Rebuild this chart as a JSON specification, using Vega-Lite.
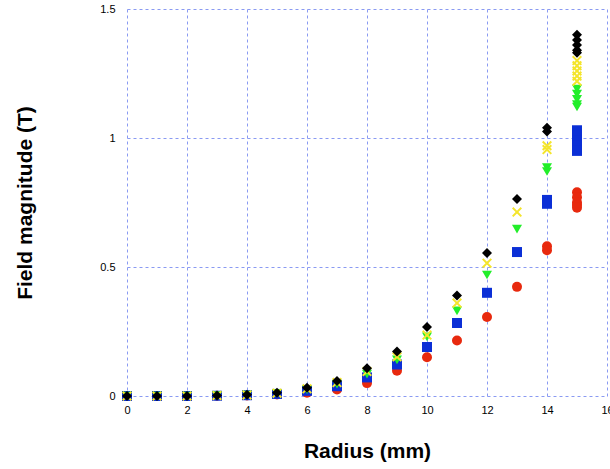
{
  "$schema": "https://vega.github.io/schema/vega-lite/v6.json",
  "width": 480,
  "height": 387,
  "autosize": "none",
  "padding": {"left": 127, "top": 9, "right": 3, "bottom": 73},
  "background": "white",
  "config": {
    "view": {"stroke": null},
    "font": "Liberation Sans",
    "axis": {
      "domain": false,
      "ticks": false,
      "grid": true,
      "gridColor": "#8a9af2",
      "gridDash": [3, 3],
      "gridWidth": 1,
      "gridOpacity": 1,
      "labelFont": "Liberation Sans",
      "labelFontSize": 11,
      "labelColor": "#000000",
      "titleFont": "Liberation Sans",
      "titleFontSize": 21,
      "titleFontWeight": "bold",
      "titleColor": "#000000"
    }
  },
  "data": {
    "values": [
      {"r": 0, "B": 0, "s": "a"}, {"r": 0, "B": 0, "s": "b"}, {"r": 0, "B": 0, "s": "c"}, {"r": 0, "B": 0, "s": "d"}, {"r": 0, "B": 0, "s": "e"},
      {"r": 1, "B": 0, "s": "a"}, {"r": 1, "B": 0, "s": "b"}, {"r": 1, "B": 0, "s": "c"}, {"r": 1, "B": 0, "s": "d"}, {"r": 1, "B": 0, "s": "e"},
      {"r": 2, "B": 0, "s": "a"}, {"r": 2, "B": 0, "s": "b"}, {"r": 2, "B": 0, "s": "c"}, {"r": 2, "B": 0, "s": "d"}, {"r": 2, "B": 0, "s": "e"},
      {"r": 3, "B": 0.001, "s": "a"}, {"r": 3, "B": 0.001, "s": "b"}, {"r": 3, "B": 0.002, "s": "c"}, {"r": 3, "B": 0.002, "s": "d"}, {"r": 3, "B": 0.002, "s": "e"},
      {"r": 4, "B": 0.002, "s": "a"}, {"r": 4, "B": 0.003, "s": "b"}, {"r": 4, "B": 0.004, "s": "c"}, {"r": 4, "B": 0.004, "s": "d"}, {"r": 4, "B": 0.005, "s": "e"},
      {"r": 5, "B": 0.006, "s": "a"}, {"r": 5, "B": 0.008, "s": "b"}, {"r": 5, "B": 0.010, "s": "c"}, {"r": 5, "B": 0.011, "s": "d"}, {"r": 5, "B": 0.013, "s": "e"},
      {"r": 6, "B": 0.013, "s": "a"}, {"r": 6, "B": 0.020, "s": "b"}, {"r": 6, "B": 0.025, "s": "c"}, {"r": 6, "B": 0.028, "s": "d"}, {"r": 6, "B": 0.032, "s": "e"},
      {"r": 7, "B": 0.025, "s": "a"}, {"r": 7, "B": 0.038, "s": "b"}, {"r": 7, "B": 0.046, "s": "c"}, {"r": 7, "B": 0.052, "s": "d"}, {"r": 7, "B": 0.058, "s": "e"},
      {"r": 8, "B": 0.050, "s": "a"}, {"r": 8, "B": 0.072, "s": "b"}, {"r": 8, "B": 0.085, "s": "c"}, {"r": 8, "B": 0.095, "s": "d"}, {"r": 8, "B": 0.108, "s": "e"},
      {"r": 9, "B": 0.098, "s": "a"}, {"r": 9, "B": 0.122, "s": "b"}, {"r": 9, "B": 0.140, "s": "c"}, {"r": 9, "B": 0.152, "s": "d"}, {"r": 9, "B": 0.172, "s": "e"},
      {"r": 10, "B": 0.150, "s": "a"}, {"r": 10, "B": 0.190, "s": "b"}, {"r": 10, "B": 0.229, "s": "c"}, {"r": 10, "B": 0.236, "s": "d"}, {"r": 10, "B": 0.267, "s": "e"},
      {"r": 11, "B": 0.215, "s": "a"}, {"r": 11, "B": 0.283, "s": "b"}, {"r": 11, "B": 0.330, "s": "c"}, {"r": 11, "B": 0.360, "s": "d"}, {"r": 11, "B": 0.390, "s": "e"},
      {"r": 12, "B": 0.306, "s": "a"}, {"r": 12, "B": 0.400, "s": "b"}, {"r": 12, "B": 0.469, "s": "c"}, {"r": 12, "B": 0.515, "s": "d"}, {"r": 12, "B": 0.554, "s": "e"},
      {"r": 13, "B": 0.423, "s": "a"}, {"r": 13, "B": 0.558, "s": "b"}, {"r": 13, "B": 0.647, "s": "c"}, {"r": 13, "B": 0.713, "s": "d"}, {"r": 13, "B": 0.764, "s": "e"},
      {"r": 14, "B": 0.580, "s": "a"}, {"r": 14, "B": 0.565, "s": "a"},
      {"r": 14, "B": 0.760, "s": "b"}, {"r": 14, "B": 0.745, "s": "b"},
      {"r": 14, "B": 0.885, "s": "c"}, {"r": 14, "B": 0.870, "s": "c"},
      {"r": 14, "B": 0.970, "s": "d"}, {"r": 14, "B": 0.955, "s": "d"},
      {"r": 14, "B": 1.040, "s": "e"}, {"r": 14, "B": 1.025, "s": "e"},
      {"r": 15, "B": 0.790, "s": "a"}, {"r": 15, "B": 0.770, "s": "a"}, {"r": 15, "B": 0.750, "s": "a"}, {"r": 15, "B": 0.740, "s": "a"}, {"r": 15, "B": 0.730, "s": "a"},
      {"r": 15, "B": 1.030, "s": "b"}, {"r": 15, "B": 1.010, "s": "b"}, {"r": 15, "B": 0.990, "s": "b"}, {"r": 15, "B": 0.970, "s": "b"}, {"r": 15, "B": 0.950, "s": "b"},
      {"r": 15, "B": 1.190, "s": "c"}, {"r": 15, "B": 1.170, "s": "c"}, {"r": 15, "B": 1.150, "s": "c"}, {"r": 15, "B": 1.130, "s": "c"}, {"r": 15, "B": 1.120, "s": "c"},
      {"r": 15, "B": 1.300, "s": "d"}, {"r": 15, "B": 1.280, "s": "d"}, {"r": 15, "B": 1.260, "s": "d"}, {"r": 15, "B": 1.240, "s": "d"}, {"r": 15, "B": 1.220, "s": "d"},
      {"r": 15, "B": 1.400, "s": "e"}, {"r": 15, "B": 1.380, "s": "e"}, {"r": 15, "B": 1.360, "s": "e"}, {"r": 15, "B": 1.340, "s": "e"}, {"r": 15, "B": 1.330, "s": "e"}
    ]
  },
  "mark": {"type": "point", "filled": true, "opacity": 1, "size": 100, "clip": false},
  "encoding": {
    "x": {
      "field": "r",
      "type": "quantitative",
      "scale": {"domain": [0, 16], "nice": false, "zero": true},
      "axis": {
        "title": "Radius (mm)",
        "values": [0, 2, 4, 6, 8, 10, 12, 14, 16],
        "labelPadding": 8,
        "titlePadding": 25,
        "labelFlush": false
      }
    },
    "y": {
      "field": "B",
      "type": "quantitative",
      "scale": {"domain": [0, 1.5], "nice": false},
      "axis": {
        "title": "Field magnitude (T)",
        "values": [0, 0.5, 1, 1.5],
        "format": "~g",
        "labelPadding": 12,
        "titlePadding": 64,
        "labelFlush": false
      }
    },
    "color": {
      "field": "s",
      "type": "nominal",
      "scale": {"domain": ["a", "b", "c", "d", "e"], "range": ["#e8290e", "#0b2fd6", "#22ee2a", "#f4e52c", "#000000"]},
      "legend": null
    },
    "shape": {
      "field": "s",
      "type": "nominal",
      "scale": {
        "domain": ["a", "b", "c", "d", "e"],
        "range": [
          "circle",
          "square",
          "triangle-down",
          "M-1,-0.72L-0.72,-1L0,-0.28L0.72,-1L1,-0.72L0.28,0L1,0.72L0.72,1L0,0.28L-0.72,1L-1,0.72L-0.28,0Z",
          "diamond"
        ]
      },
      "legend": null
    },
    "order": {"field": "s", "type": "nominal"}
  }
}
